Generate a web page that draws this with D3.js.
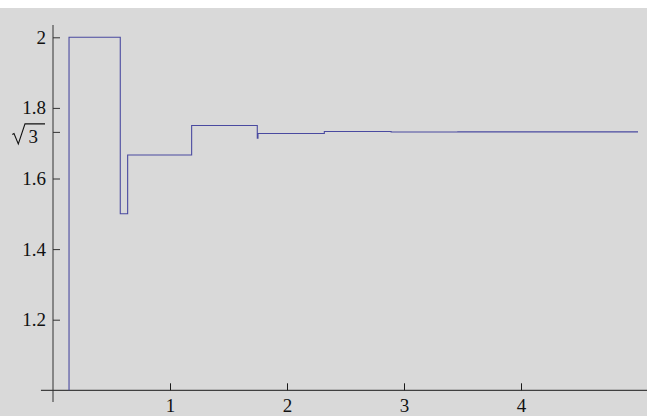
<!DOCTYPE html>
<html><head><meta charset="utf-8">
<script src="https://cdn.jsdelivr.net/npm/d3@7"></script>
<style>body{margin:0;background:#fff}svg{display:block}
text{font-family:"Liberation Serif","Times New Roman",serif;}</style>
</head><body>
<script>
const stepX = [0.137, 0.137, 0.575, 0.638, 1.185, 1.746, 1.752, 2.319, 2.890, 3.460, 4.040, 5.0];
const stepY = [1.0, 2.0, 1.5, 1.6667, 1.75, 1.714, 1.7273, 1.7333, 1.7317, 1.7321, 1.7320, 1.7320];
const xTicks = [1, 2, 3, 4];
const yTicks = [1.2, 1.4, 1.6, 1.8, Math.sqrt(3), 2];

const W = 647, H = 416;
const svg = d3.select("body").append("svg").attr("width", W).attr("height", H);
svg.append("rect").attr("x", 0).attr("y", 8).attr("width", W).attr("height", H - 8).attr("fill", "#d9d9d9");

const x = d3.scaleLinear().domain([0, 1]).range([53, 170]);
const y = d3.scaleLinear().domain([1, 2]).range([390.3, 37.3]);
const isSqrt = d => Math.abs(d - Math.sqrt(3)) < 1e-9;

// x axis
const xa = svg.append("g").attr("transform", `translate(0,${y(1)})`)
  .call(d3.axisBottom(x).tickValues(xTicks).tickSize(-7).tickPadding(8).tickFormat(d3.format("d")));
xa.attr("font-family", null).attr("font-size", null);
xa.select(".domain").attr("d", `M${x(-0.103)},0H${W}`).attr("stroke", "#1a1a1a");
xa.selectAll(".tick line").attr("stroke", "#1a1a1a");
xa.selectAll("text").style("font-size", "19px").attr("fill", "#111");

// y axis
const ya = svg.append("g").attr("transform", `translate(${x(0)},0)`)
  .call(d3.axisLeft(y).tickValues(yTicks).tickSize(-7).tickPadding(7)
    .tickFormat(d => isSqrt(d) ? "" : d3.format("")(+d.toFixed(1))));
ya.attr("font-family", null).attr("font-size", null);
ya.select(".domain").attr("d", `M0,25V402`).attr("stroke", "#333");
ya.selectAll(".tick line").attr("stroke", "#333");
ya.selectAll("text").style("font-size", "19px").attr("fill", "#111");
// √3 label
ya.selectAll(".tick").filter(isSqrt).each(function() {
  const g = d3.select(this);
  g.append("path")
    .attr("d", "M-40.7,2.2 L-39,1.2 L-34.7,11.5 L-28,-8.5 H-8")
    .attr("fill", "none").attr("stroke", "#111").attr("stroke-width", 1.1);
  g.append("text").attr("x", -24.5).attr("y", 10.5).attr("text-anchor", "start")
    .style("font-size", "19px").attr("fill", "#111").text("3");
});

// step line
const pts = stepX.map((v, i) => [v, stepY[i]]);
svg.append("path").datum(pts)
  .attr("d", d3.line().x(d => x(d[0])).y(d => y(d[1])).curve(d3.curveStepAfter))
  .attr("fill", "none").attr("stroke", "#4a4aa0").attr("stroke-width", 1.1);
</script>
</body></html>
